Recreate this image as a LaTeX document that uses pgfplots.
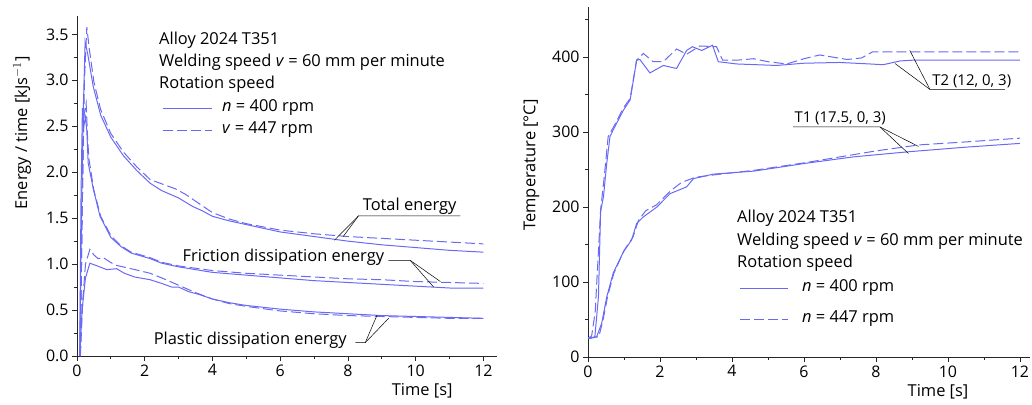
\documentclass[border=0pt]{standalone}
\usepackage{fontspec}
\setmainfont{Open Sans}
\usepackage{pgfplots}
\pgfplotsset{compat=1.18}

\definecolor{curve}{RGB}{105,105,245}
\newcommand{\lbl}{\fontsize{16.5}{19}\selectfont}

\tikzset{
    sol/.style={curve, line width=1pt},
    das/.style={curve, line width=1pt, dash pattern=on 10bp off 4bp},
    lead/.style={black, line width=0.5pt},
}
\pgfplotsset{
    panel/.style={
        scale only axis,
        axis lines=left,
        axis line style={-, line width=0.8pt, black!85},
        every outer x axis line/.append style={-},
        every outer y axis line/.append style={-},
        tick align=outside,
        major tick length=5bp,
        minor tick length=3bp,
        tick style={black!85, line width=0.8pt},
        xmin=0, ymin=0,
        xtick={0,2,...,12},
        minor xtick={1,3,...,11},
        tick label style={font=\fontsize{16}{19}\selectfont},
        label style={font=\lbl},
        /pgf/number format/assume math mode=true,
        clip=false,
    },
}

\begin{document}
\begin{tikzpicture}
\path[use as bounding box] (0,0) rectangle (1032bp,-405bp);

% left panel: energy per time
\begin{axis}[panel,
    at={(77bp,-356bp)}, anchor=south west,
    width=420bp, height=340bp,
    xmax=12.4, ymax=3.7,
    ytick={0,0.5,...,3.5},
    minor ytick={0.25,0.75,...,3.25},
    yticklabel style={/pgf/number format/.cd, fixed, fixed zerofill, precision=1},
    ylabel={Energy / time [kJs$^{-1}$]},
    ylabel style={at={(ticklabel cs:0.656,8bp)}},
    xlabel={Time [s]},
    xlabel style={at={(ticklabel cs:0.822)}, anchor=north},
]
% total energy
\addplot[sol] coordinates {(0.08,0) (0.12,1.2) (0.18,2.6) (0.24,3.42) (0.32,3.28) (0.48,2.93) (0.7,2.62) (1.0,2.38) (1.37,2.18) (1.76,2.02) (2.16,1.88) (2.5,1.8) (3.0,1.72) (3.4,1.63) (3.7,1.58) (4.0,1.52) (4.5,1.47) (5,1.43) (5.5,1.39) (6,1.35) (7,1.30) (8,1.25) (9,1.21) (10,1.18) (11,1.15) (12,1.13)};
\addplot[das] coordinates {(0.1,0) (0.15,1.5) (0.22,3.0) (0.29,3.58) (0.36,3.35) (0.5,2.98) (0.7,2.68) (1.0,2.42) (1.37,2.22) (1.76,2.06) (2.16,1.92) (2.6,1.86) (2.9,1.82) (3.2,1.76) (3.6,1.66) (4.0,1.56) (4.5,1.49) (5,1.44) (6,1.37) (7,1.33) (8,1.30) (9,1.28) (10,1.26) (11,1.24) (12,1.22)};
% friction dissipation
\addplot[sol] coordinates {(0.08,0) (0.12,1.8) (0.16,2.7) (0.2,2.5) (0.25,2.6) (0.29,2.45) (0.33,2.1) (0.48,1.82) (0.68,1.52) (1.0,1.29) (1.3,1.19) (1.6,1.12) (2.16,1.06) (2.5,1.01) (3.0,0.97) (3.5,0.94) (4,0.91) (5,0.88) (6,0.85) (7,0.82) (8,0.80) (9,0.78) (10,0.76) (11,0.74) (12,0.74)};
\addplot[das] coordinates {(0.1,0) (0.15,1.5) (0.2,2.6) (0.27,2.75) (0.31,2.4) (0.35,2.15) (0.5,1.8) (0.7,1.52) (1.0,1.31) (1.3,1.2) (1.6,1.13) (2.16,1.07) (2.5,1.02) (3,0.98) (4,0.93) (5,0.90) (6,0.88) (7,0.86) (8,0.84) (9,0.83) (10,0.81) (11,0.80) (12,0.79)};
% plastic dissipation
\addplot[sol] coordinates {(0.08,0) (0.15,0.5) (0.25,0.85) (0.38,1.01) (0.6,0.98) (0.88,0.94) (1.17,0.95) (1.4,0.9) (1.7,0.86) (2.16,0.83) (2.5,0.79) (2.8,0.75) (3.0,0.75) (3.3,0.7) (3.6,0.67) (4,0.62) (4.5,0.58) (5,0.55) (6,0.51) (7,0.48) (8,0.46) (9,0.44) (10,0.43) (11,0.42) (12,0.41)};
\addplot[das] coordinates {(0.1,0) (0.17,0.6) (0.25,1.0) (0.38,1.16) (0.5,1.1) (0.62,1.06) (0.78,1.07) (0.9,1.04) (1.12,0.99) (1.6,0.95) (2.16,0.9) (2.5,0.85) (3.0,0.77) (3.5,0.69) (4,0.62) (4.5,0.57) (5,0.54) (6,0.49) (7,0.46) (8,0.44) (9,0.43) (10,0.42) (11,0.41) (12,0.41)};

\node[font=\lbl, anchor=south, inner sep=1.5bp] at (axis cs:9.82,1.525) {Total energy};
\draw[lead] (axis cs:11.32,1.525) -- (axis cs:8.31,1.525) -- (axis cs:7.6,1.26);
\draw[lead] (axis cs:8.31,1.525) -- (axis cs:7.86,1.30);

\node[font=\lbl, anchor=east, inner sep=1bp] at (axis cs:9.1,1.075) {Friction dissipation energy};
\draw[lead] (axis cs:9.19,1.04) -- (axis cs:9.84,1.04) -- (axis cs:10.53,0.75);
\draw[lead] (axis cs:9.84,1.04) -- (axis cs:10.73,0.81);

\node[font=\lbl, anchor=east, inner sep=1bp] at (axis cs:8.0,0.174) {Plastic dissipation energy};
\draw[lead] (axis cs:8.22,0.145) -- (axis cs:8.51,0.145) -- (axis cs:8.86,0.446);
\draw[lead] (axis cs:8.51,0.145) -- (axis cs:9.20,0.41);
\end{axis}

% right panel: temperature
\begin{axis}[panel,
    at={(588bp,-357bp)}, anchor=south west,
    width=442bp, height=350bp,
    xmax=12.28, ymax=467,
    ytick={0,100,...,400},
    minor ytick={50,150,...,450},
    ylabel={Temperature [\textdegree C]},
    ylabel style={at={(ticklabel cs:0.549,6bp)}},
    xlabel={Time [s]},
    xlabel style={at={(ticklabel cs:0.792)}, anchor=north},
]
% T2 (12, 0, 3)
\addplot[sol] coordinates {(0,25) (0.06,25) (0.19,27) (0.29,80) (0.35,194) (0.43,214) (0.52,258) (0.61,294) (0.7,303) (0.98,329) (1.17,343) (1.26,369) (1.35,396) (1.44,397) (1.72,379) (2.09,389) (2.46,385) (2.74,409) (2.9,414) (3.16,409) (3.46,416) (3.62,394) (4.13,391) (5.24,389) (6,392) (7,393) (7.83,391) (8.2,390) (8.67,395) (9,396) (12,396)};
\addplot[das] coordinates {(0,25) (0.1,28) (0.2,60) (0.3,150) (0.35,196) (0.45,240) (0.56,294) (0.7,306) (0.98,332) (1.17,345) (1.35,396) (1.54,405) (1.81,394) (2.09,394) (2.46,411) (2.74,404) (3.11,415) (3.57,414) (3.74,396) (4.13,396) (4.6,398) (5.0,394) (5.52,391) (6.0,398) (6.44,403) (7.2,397) (7.6,399) (7.9,407) (12,407)};
% T1 (17.5, 0, 3)
\addplot[sol] coordinates {(0,25) (0.06,25) (0.24,27) (0.38,45) (0.52,80) (0.7,112) (0.98,140) (1.21,156) (1.35,178) (1.54,187) (1.91,200) (2.28,218) (2.74,227) (2.93,238) (3.48,244) (4.6,248) (5.3,253) (5.98,258) (7.37,267) (8.94,274) (10.5,280) (12,285)};
\addplot[das] coordinates {(0,25) (0.3,27) (0.42,50) (0.55,82) (0.72,112) (1.0,142) (1.25,160) (1.4,182) (1.6,195) (1.9,203) (2.3,222) (2.6,233) (3.0,240) (3.67,244) (4.6,249) (5.3,254) (6,259) (7,267) (8,275) (9.2,283) (10.5,287) (12,292)};

\node[font=\fontsize{15}{17}\selectfont, anchor=south west, inner sep=1.5bp] at (axis cs:9.52,357) {T2 (12, 0, 3)};
\draw[lead] (axis cs:11.58,357) -- (axis cs:9.5,357) -- (axis cs:8.53,391.6);
\draw[lead] (axis cs:9.5,357) -- (axis cs:8.94,409);

\node[font=\fontsize{15}{17}\selectfont, anchor=south west, inner sep=1.5bp] at (axis cs:5.69,307) {T1 (17.5, 0, 3)};
\draw[lead] (axis cs:5.69,307) -- (axis cs:8.11,307) -- (axis cs:8.9,271.6);
\draw[lead] (axis cs:8.11,307) -- (axis cs:9.18,281);
\end{axis}

% text blocks with line keys
\begin{scope}[every node/.style={font=\lbl, anchor=west, inner sep=0pt}]
\node at (159bp,-40bp) {Alloy 2024 T351};
\node at (159bp,-62bp) {Welding speed \textit{v} = 60 mm per minute};
\node at (159bp,-84bp) {Rotation speed};
\draw[sol] (163bp,-108bp) -- (212bp,-108bp);
\node at (222bp,-108bp) {\textit{n} = 400 rpm};
\draw[das] (163bp,-130bp) -- (212bp,-130bp);
\node at (222bp,-130bp) {\textit{v} = 447 rpm};

\node at (737bp,-218bp) {Alloy 2024 T351};
\node at (737bp,-241bp) {Welding speed \textit{v} = 60 mm per minute};
\node at (737bp,-263bp) {Rotation speed};
\draw[sol] (740bp,-288bp) -- (788bp,-288bp);
\node at (802bp,-288bp) {\textit{n} = 400 rpm};
\draw[das] (740bp,-319bp) -- (788bp,-319bp);
\node at (802bp,-319bp) {\textit{n} = 447 rpm};
\end{scope}
\end{tikzpicture}
\end{document}
